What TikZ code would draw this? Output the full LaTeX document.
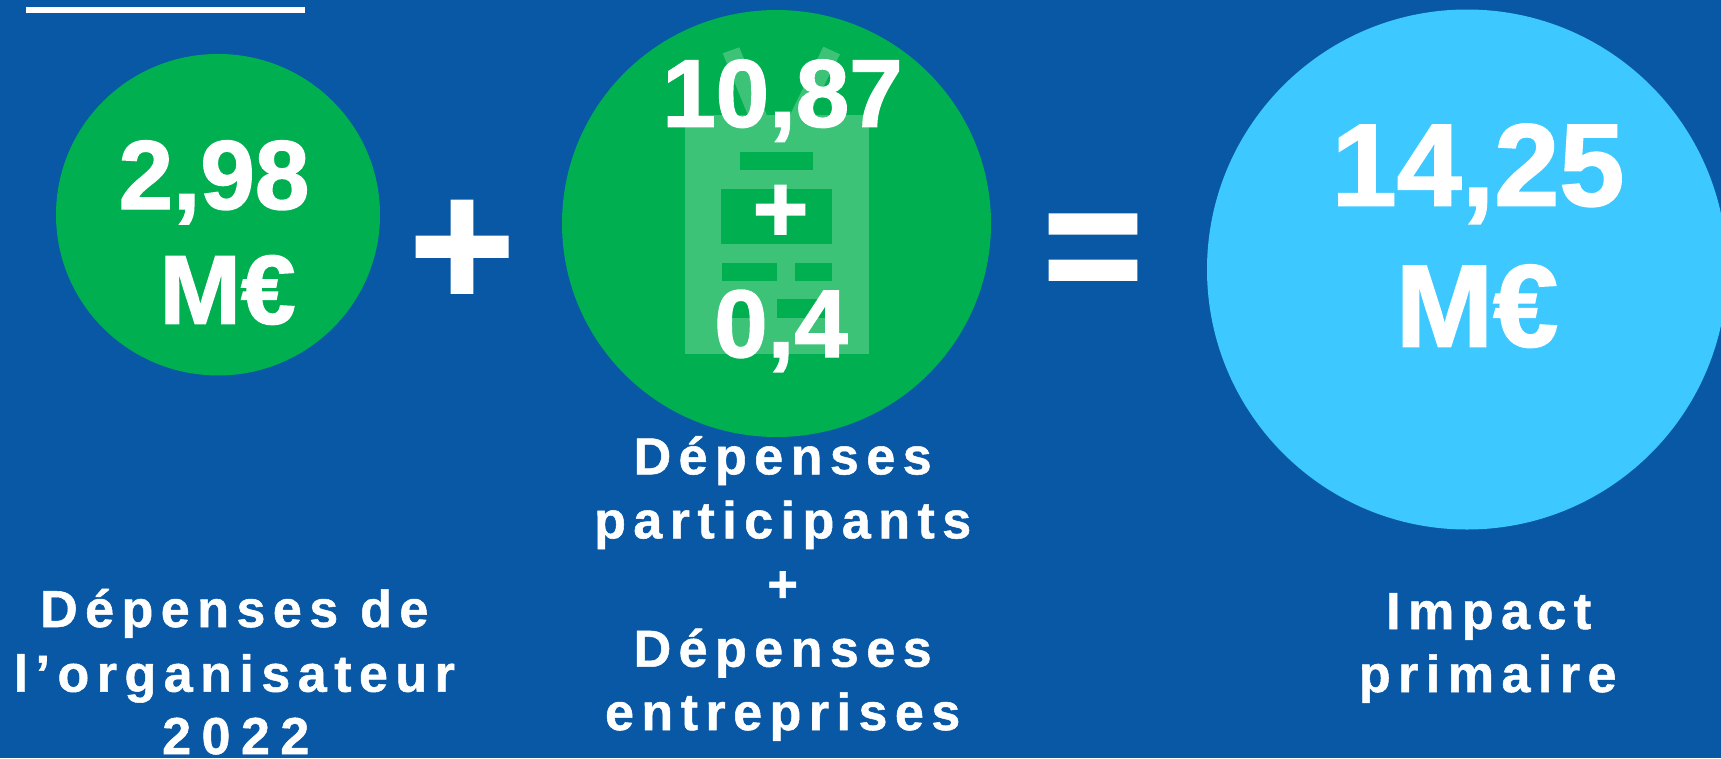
\documentclass[tikz,border=0pt]{standalone}
\usepackage{fontspec}
\setmainfont{Liberation Sans}[BoldFont={Liberation Sans Bold}]
\newfontfamily\spaced{Liberation Sans Bold}[LetterSpace=14.4,FakeBold=1]
\newfontfamily\spacedwide{Liberation Sans Bold}[LetterSpace=20.2,FakeBold=1]
\newfontfamily\heavy{Liberation Sans Bold}[FakeBold=1.5]
\definecolor{bgblue}{HTML}{0858A5}
\definecolor{dotgreen}{HTML}{00AF50}
\definecolor{skyblue}{HTML}{3DC9FF}
\definecolor{iconlight}{HTML}{3CC377}
\usetikzlibrary{shapes.geometric}
\tikzset{
  blob/.style={ellipse,draw=none,inner sep=0pt,minimum width=#1},
  bignum/.style={text=white,inner sep=0pt,anchor=base,font=\heavy\fontsize{#1}{#1}\selectfont},
  captext/.style={text=white,inner sep=0pt,anchor=base,font=\spaced\fontsize{52}{64}\selectfont},
  capwide/.style={text=white,inner sep=0pt,anchor=base,font=\spacedwide\fontsize{52}{64}\selectfont},
  hole/.style={fill=dotgreen,draw=none},
  iconpart/.style={fill=iconlight,draw=none}
}
\begin{document}
\begin{tikzpicture}[x=1pt,y=-1pt]
\useasboundingbox (0,0) rectangle (1721,758);
\clip (0,0) rectangle (1721,758);
\fill[bgblue] (0,0) rectangle (1721,758);
\fill[white] (26,7) rectangle (305,13);
% circles
\node[blob=324pt,minimum height=321.5pt,fill=dotgreen] (c1) at (218,214.7) {};
\node[blob=429pt,minimum height=427pt,fill=dotgreen] (c2) at (776.5,223.5) {};
\node[blob=520pt,minimum height=520pt,fill=skyblue] (c3) at (1467,269.5) {};
% clipboard icon
\fill[iconpart] (685,115) rectangle (869,354);
\fill[iconpart] (722.7,53.3) -- (739.3,47.3) -- (781.7,151.7) -- (762.7,151.7) -- cycle;
\fill[iconpart] (823.3,46.7) -- (840,54.3) -- (790,151.7) -- (772,151.7) -- cycle;
\fill[hole] (740,151.7) rectangle (813.3,170);
\fill[hole] (721.3,189) rectangle (832,244);
\fill[hole] (721.7,262.7) rectangle (776.7,280.7);
\fill[hole] (795,262.7) rectangle (832,280.7);
\fill[hole] (721.7,299.3) rectangle (758.3,317.7);
\fill[hole] (776.7,299.3) rectangle (832,317.7);
% numbers
\node[bignum=98] (n1a) at (214,209) {2,98};
\node[bignum=98] (n1b) at (227.5,323.7) {M€};
\node[bignum=96] (n2a) at (782.5,126.7) {10,87};
\node[bignum=96] (n2b) at (780.5,241.6) {+};
\node[bignum=96] (n2c) at (781,357) {0,4};
\node[bignum=117] (n3a) at (1478,205.6) {14,25};
\node[bignum=117] (n3b) at (1477,346.4) {M€};
% operators
\node[bignum=180] (plus) at (462,306.6) {+};
\node[bignum=172] (equal) at (1093,304) {=};
% captions
\node[captext] (l1a) at (234.3,627) {Dépenses de};
\node[captext] (l1b) at (234.3,691.7) {l’organisateur};
\node[capwide] (l1c) at (235.8,754) {2022};
\node[captext] (l2a) at (782.7,474.3) {Dépenses};
\node[captext] (l2b) at (782.7,538.3) {participants};
\node[captext] (l2c) at (782.7,602) {+};
\node[captext] (l2d) at (782.7,666.7) {Dépenses};
\node[captext] (l2e) at (782.7,730) {entreprises};
\node[captext] (l3a) at (1488.7,629) {Impact};
\node[captext] (l3b) at (1487.7,692) {primaire};
\end{tikzpicture}
\end{document}
